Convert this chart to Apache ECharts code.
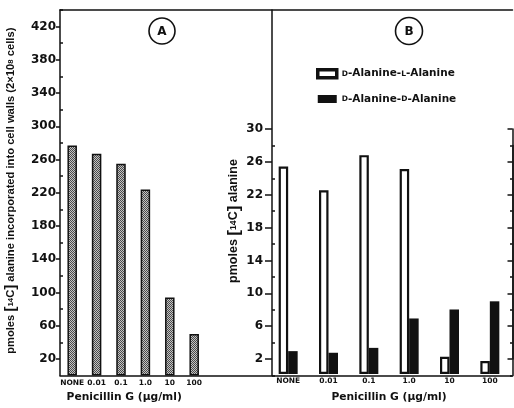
<!DOCTYPE html>
<html><head><meta charset="utf-8">
<script src="https://cdn.jsdelivr.net/npm/echarts@6/dist/echarts.min.js"></script>
<style>html,body{margin:0;padding:0;background:#fff}#c{width:514px;height:408px}</style>
</head><body><div id="c"></div>
<script>
// ---- data ----
const categories = ['NONE', '0.01', '0.1', '1.0', '10', '100'];
const wallAlanine = [277, 267, 255, 224, 94, 50];          // panel A, pmoles
const dAlaLAla = [25.4, 22.5, 26.8, 25.1, 2.1, 1.6];       // panel B
const dAlaDAla = [2.8, 2.6, 3.2, 6.8, 7.9, 8.9];           // panel B
const tickLabelsA = [20, 60, 100, 140, 180, 220, 260, 300, 340, 380, 420];
const tickLabelsB = [2, 6, 10, 14, 18, 22, 26, 30];
const nameDLA = 'D-Alanine-L-Alanine';
const nameDDA = 'D-Alanine-D-Alanine';

// ---- layout ----
const H = 408, base = 375.5, topA = 10, maxA = 440, top30 = 129, maxB = 30;
const yA = v => base - v * (base - topA) / maxA;
const yB = v => base - v * (base - top30) / maxB;
const FONT = 'DejaVu Sans';
const TFONT = 'Liberation Sans';
const INK = '#111';

const chart = echarts.init(document.getElementById('c'), null, {renderer: 'canvas'});

// hatched pattern for panel A bars
const pc = document.createElement('canvas');
pc.width = 2; pc.height = 2;
const px = pc.getContext('2d');
px.fillStyle = '#c4c4c4'; px.fillRect(0, 0, 2, 2);
px.fillStyle = '#4a4a4a'; px.fillRect(0, 0, 1, 1); px.fillRect(1, 1, 1, 1);

const hiddenX = g => ({gridIndex: g, type: 'value', show: false});
const lineStyle = {color: INK, width: 1.5};
const tickLabel = {fontFamily: FONT, fontWeight: 'bold', fontSize: 12, color: INK};
const catLabel = {fontFamily: FONT, fontWeight: 'bold', fontSize: 7.5, color: INK, margin: 3.5, interval: 0};
const titleStyle = {fontFamily: FONT, fontWeight: 'bold', fontSize: 10.7, color: INK};
const yTitle = size => ({
  fontFamily: TFONT, fontWeight: 'bold', fontSize: size, color: INK,
  rich: {b: {fontFamily: TFONT, fontWeight: 'bold', fontSize: size * 1.35, color: INK},
         s: {fontFamily: TFONT, fontWeight: 'bold', fontSize: size * 0.7, color: INK}}
});

const Aw = 146.4;
const option = {
  animation: false,
  backgroundColor: '#fff',
  grid: [
    {left: 60, right: 1.5, top: topA, bottom: H - base},                 // 0 frame
    {left: 272, right: 1.5, top: topA, bottom: H - base},                // 1 B left line
    {left: 60, width: Aw, top: topA, bottom: H - base},                  // 2 A data
    {left: 60, width: Aw, top: yA(420), bottom: H - yA(20)},             // 3 A major ticks
    {left: 60, width: Aw, top: yA(440), bottom: H - yA(40)},             // 4 A minor ticks
    {left: 268, width: 242, top: yB(30), bottom: H - base},              // 5 B data
    {left: 272, right: 1.5, top: yB(30), bottom: H - yB(2)},             // 6 B major ticks
    {left: 272, right: 1.5, top: yB(28), bottom: H - base}               // 7 B minor ticks
  ],
  xAxis: [
    {gridIndex: 0, type: 'value', position: 'bottom', axisLine: {show: true, onZero: false, lineStyle}, axisTick: {show: false}, axisLabel: {show: false}, splitLine: {show: false}},
    {gridIndex: 0, type: 'value', position: 'top', axisLine: {show: true, onZero: false, lineStyle}, axisTick: {show: false}, axisLabel: {show: false}, splitLine: {show: false}},
    hiddenX(1),
    {gridIndex: 2, type: 'category', data: categories, axisLine: {show: false}, axisTick: {show: false},
     axisLabel: catLabel, name: 'Penicillin G (μg/ml)', nameLocation: 'middle', nameGap: 14,
     nameTextStyle: Object.assign({padding: [0, 18, 0, 0]}, titleStyle)},
    hiddenX(3), hiddenX(4),
    {gridIndex: 5, type: 'category', data: categories, axisLine: {show: false}, axisTick: {show: false},
     axisLabel: catLabel, name: 'Penicillin G (μg/ml)', nameLocation: 'middle', nameGap: 18,
     nameTextStyle: titleStyle},
    hiddenX(6), hiddenX(7)
  ],
  yAxis: [
    {gridIndex: 0, type: 'value', min: 0, max: 1, axisLine: {show: true, lineStyle}, axisTick: {show: false}, axisLabel: {show: false}, splitLine: {show: false}},
    {gridIndex: 1, type: 'value', min: 0, max: 1, axisLine: {show: true, lineStyle}, axisTick: {show: false}, axisLabel: {show: false}, splitLine: {show: false}},
    {gridIndex: 2, type: 'value', min: 0, max: maxA, show: false},
    {gridIndex: 3, type: 'value', min: tickLabelsA[0], max: tickLabelsA[tickLabelsA.length - 1], interval: 40,
     axisLine: {show: false}, axisTick: {show: true, length: 4, lineStyle}, splitLine: {show: false},
     axisLabel: Object.assign({margin: 4}, tickLabel),
     name: 'pmoles {b|[}{s|14}C{b|]} alanine incorporated into cell walls (2×10{s|8} cells)', nameLocation: 'middle', nameGap: 42,
     nameTextStyle: Object.assign(yTitle(11.2), {padding: [0, 0, 0, 4]})},
    {gridIndex: 4, type: 'value', min: 40, max: 440, interval: 40,
     axisLine: {show: false}, axisTick: {show: true, inside: true, length: 3, lineStyle}, axisLabel: {show: false}, splitLine: {show: false}},
    {gridIndex: 5, type: 'value', min: 0, max: maxB, show: false},
    {gridIndex: 6, type: 'value', min: tickLabelsB[0], max: tickLabelsB[tickLabelsB.length - 1], interval: 4,
     axisLine: {show: false}, axisTick: {show: true, length: 7, lineStyle}, splitLine: {show: false},
     axisLabel: Object.assign({margin: 9}, tickLabel),
     name: 'pmoles {b|[}{s|14}C{b|]} alanine', nameLocation: 'middle', nameGap: 25,
     nameTextStyle: Object.assign(yTitle(12.5), {padding: [0, 0, 0, 46]})},
    {gridIndex: 6, type: 'value', position: 'right', min: 2, max: 30, interval: 4,
     axisLine: {show: true, lineStyle}, axisTick: {show: true, inside: true, length: 5, lineStyle}, axisLabel: {show: false}, splitLine: {show: false}},
    {gridIndex: 7, type: 'value', min: 0, max: 28, interval: 4,
     axisLine: {show: false}, axisTick: {show: true, inside: true, length: 3, lineStyle}, axisLabel: {show: false}, splitLine: {show: false}},
    {gridIndex: 7, type: 'value', position: 'right', min: 0, max: 28, interval: 4,
     axisLine: {show: true, lineStyle}, axisTick: {show: true, inside: true, length: 2.5, lineStyle}, axisLabel: {show: false}, splitLine: {show: false}}
  ],
  legend: {
    orient: 'vertical', left: 316, top: 68, padding: 0, itemWidth: 19, itemHeight: 8, itemGap: 14,
    selectedMode: false,
    data: [
      {name: nameDLA, icon: 'rect', itemStyle: {color: '#fff', borderColor: INK, borderWidth: 3.5}},
      {name: nameDDA, icon: 'rect', itemStyle: {color: INK}}
    ],
    formatter: n => n === nameDLA ? '{s|D}-Alanine-{s|L}-Alanine' : '{s|D}-Alanine-{s|D}-Alanine',
    textStyle: {fontFamily: FONT, fontWeight: 'bold', fontSize: 10.5, color: INK,
      rich: {s: {fontFamily: FONT, fontWeight: 'bold', fontSize: 7.5, color: INK}}}
  },
  series: [
    {type: 'bar', name: 'Panel A', xAxisIndex: 3, yAxisIndex: 2, data: wallAlanine, barWidth: 9.5,
     itemStyle: {color: {image: pc, repeat: 'repeat'}, borderColor: INK, borderWidth: 1.5}},
    {type: 'bar', name: nameDLA, xAxisIndex: 6, yAxisIndex: 5, data: dAlaLAla, barWidth: 9.5, barGap: '0%',
     itemStyle: {color: '#fff', borderColor: INK, borderWidth: 2.2}},
    {type: 'bar', name: nameDDA, xAxisIndex: 6, yAxisIndex: 5, data: dAlaDAla, barWidth: 9.5, barGap: '0%',
     itemStyle: {color: INK}}
  ],
  graphic: [
    {type: 'circle', shape: {cx: 162, cy: 31, r: 13}, style: {fill: 'none', stroke: INK, lineWidth: 1.6}},
    {type: 'text', x: 162, y: 31.5, style: {text: 'A', fontFamily: FONT, fontWeight: 'bold', fontSize: 12, fill: INK, align: 'center', verticalAlign: 'middle'}},
    {type: 'circle', shape: {cx: 409, cy: 31, r: 13.5}, style: {fill: 'none', stroke: INK, lineWidth: 1.6}},
    {type: 'text', x: 409, y: 31.5, style: {text: 'B', fontFamily: FONT, fontWeight: 'bold', fontSize: 12, fill: INK, align: 'center', verticalAlign: 'middle'}}
  ]
};
chart.setOption(option);
</script></body></html>
